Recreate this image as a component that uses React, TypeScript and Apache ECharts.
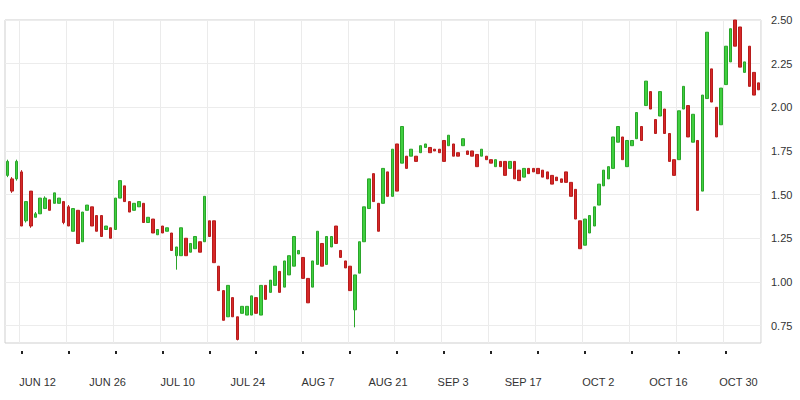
import React, { useEffect, useRef } from "react";
import * as echarts from "echarts";

// Daily candles: [open, close, low, high]
const candles: number[][] = [
  [1.61, 1.69, 1.60, 1.70], [1.59, 1.52, 1.51, 1.60], [1.59, 1.69, 1.58, 1.70], [1.63, 1.32, 1.32, 1.64],
  [1.35, 1.46, 1.34, 1.46], [1.52, 1.32, 1.31, 1.52], [1.37, 1.39, 1.37, 1.40], [1.39, 1.48, 1.39, 1.48],
  [1.42, 1.48, 1.42, 1.49], [1.47, 1.41, 1.41, 1.47], [1.45, 1.51, 1.45, 1.51], [1.45, 1.48, 1.45, 1.48],
  [1.46, 1.34, 1.33, 1.46], [1.43, 1.32, 1.32, 1.44], [1.29, 1.42, 1.29, 1.42], [1.41, 1.22, 1.22, 1.41],
  [1.23, 1.40, 1.23, 1.40], [1.41, 1.44, 1.41, 1.44], [1.43, 1.32, 1.32, 1.43], [1.38, 1.29, 1.29, 1.38],
  [1.38, 1.26, 1.26, 1.38], [1.30, 1.32, 1.30, 1.32], [1.31, 1.25, 1.25, 1.31], [1.30, 1.48, 1.30, 1.48],
  [1.48, 1.58, 1.48, 1.58], [1.55, 1.46, 1.46, 1.55], [1.46, 1.40, 1.40, 1.46], [1.41, 1.45, 1.41, 1.45],
  [1.43, 1.46, 1.43, 1.46], [1.45, 1.34, 1.34, 1.45], [1.34, 1.37, 1.34, 1.37], [1.36, 1.28, 1.28, 1.36],
  [1.27, 1.30, 1.27, 1.30], [1.32, 1.28, 1.28, 1.32], [1.29, 1.31, 1.29, 1.31], [1.28, 1.18, 1.18, 1.28],
  [1.15, 1.20, 1.07, 1.20], [1.15, 1.31, 1.15, 1.31], [1.25, 1.15, 1.15, 1.25], [1.17, 1.22, 1.17, 1.22],
  [1.19, 1.26, 1.19, 1.26], [1.23, 1.17, 1.17, 1.23], [1.23, 1.49, 1.23, 1.49], [1.35, 1.26, 1.26, 1.35],
  [1.35, 1.11, 1.11, 1.35], [1.09, 0.95, 0.95, 1.09], [0.95, 0.78, 0.78, 0.95], [0.80, 0.98, 0.80, 0.98],
  [0.91, 0.80, 0.80, 0.91], [0.80, 0.67, 0.665, 0.80], [0.82, 0.86, 0.82, 0.86], [0.81, 0.86, 0.81, 0.86],
  [0.81, 0.92, 0.81, 0.92], [0.91, 0.82, 0.82, 0.91], [0.81, 0.98, 0.81, 0.98], [0.98, 0.90, 0.90, 0.98],
  [0.94, 1.01, 0.94, 1.01], [0.98, 1.09, 0.98, 1.09], [1.06, 0.94, 0.94, 1.06], [0.97, 1.12, 0.97, 1.12],
  [1.04, 1.15, 1.04, 1.15], [1.09, 1.26, 1.09, 1.26], [1.16, 1.18, 1.16, 1.18], [1.14, 1.02, 1.02, 1.14],
  [1.02, 0.88, 0.88, 1.02], [0.97, 1.12, 0.97, 1.12], [1.10, 1.29, 1.10, 1.29], [1.22, 1.09, 1.09, 1.22],
  [1.10, 1.26, 1.10, 1.26], [1.20, 1.26, 1.20, 1.26], [1.32, 1.22, 1.22, 1.32], [1.18, 1.14, 1.14, 1.18],
  [1.12, 1.08, 1.08, 1.12], [1.09, 0.95, 0.95, 1.09], [0.84, 1.04, 0.74, 1.04], [1.05, 1.23, 1.05, 1.23],
  [1.23, 1.43, 1.23, 1.43], [1.42, 1.59, 1.42, 1.59], [1.62, 1.46, 1.46, 1.62], [1.45, 1.29, 1.29, 1.45],
  [1.45, 1.65, 1.45, 1.65], [1.63, 1.49, 1.49, 1.63], [1.49, 1.76, 1.49, 1.76], [1.79, 1.52, 1.52, 1.79],
  [1.68, 1.89, 1.68, 1.89], [1.72, 1.65, 1.65, 1.72], [1.72, 1.76, 1.72, 1.76], [1.72, 1.69, 1.69, 1.72],
  [1.74, 1.78, 1.74, 1.78], [1.77, 1.79, 1.77, 1.79], [1.77, 1.74, 1.74, 1.77], [1.76, 1.75, 1.75, 1.76],
  [1.76, 1.74, 1.74, 1.76], [1.81, 1.69, 1.69, 1.81], [1.78, 1.84, 1.78, 1.84], [1.79, 1.72, 1.72, 1.79],
  [1.74, 1.72, 1.72, 1.74], [1.78, 1.82, 1.78, 1.82], [1.75, 1.73, 1.73, 1.75], [1.75, 1.72, 1.72, 1.75],
  [1.73, 1.66, 1.66, 1.73], [1.72, 1.76, 1.72, 1.76], [1.72, 1.70, 1.70, 1.72], [1.70, 1.68, 1.68, 1.70],
  [1.66, 1.70, 1.66, 1.70], [1.69, 1.66, 1.66, 1.69], [1.69, 1.61, 1.61, 1.69], [1.65, 1.69, 1.65, 1.69],
  [1.69, 1.59, 1.59, 1.69], [1.64, 1.58, 1.58, 1.64], [1.60, 1.65, 1.60, 1.65], [1.65, 1.62, 1.62, 1.65],
  [1.65, 1.63, 1.63, 1.65], [1.65, 1.62, 1.62, 1.65], [1.64, 1.60, 1.60, 1.64], [1.63, 1.59, 1.59, 1.63],
  [1.61, 1.56, 1.56, 1.61], [1.60, 1.58, 1.58, 1.60], [1.59, 1.57, 1.57, 1.59], [1.63, 1.57, 1.57, 1.63],
  [1.57, 1.49, 1.49, 1.57], [1.53, 1.36, 1.36, 1.53], [1.35, 1.19, 1.19, 1.35], [1.21, 1.36, 1.21, 1.36],
  [1.28, 1.38, 1.28, 1.38], [1.32, 1.43, 1.32, 1.43], [1.44, 1.56, 1.44, 1.56], [1.55, 1.64, 1.55, 1.64],
  [1.59, 1.66, 1.59, 1.66], [1.65, 1.83, 1.65, 1.83], [1.80, 1.89, 1.80, 1.89], [1.83, 1.70, 1.70, 1.83],
  [1.66, 1.81, 1.66, 1.81], [1.78, 1.81, 1.78, 1.81], [1.82, 1.97, 1.82, 1.97], [1.89, 1.81, 1.81, 1.89],
  [2.01, 2.15, 2.01, 2.15], [2.09, 1.99, 1.99, 2.09], [1.93, 1.85, 1.85, 1.93], [1.95, 2.09, 1.95, 2.09],
  [1.99, 1.85, 1.85, 1.99], [1.85, 1.69, 1.69, 1.85], [1.70, 1.61, 1.61, 1.70], [1.70, 1.98, 1.70, 1.98],
  [1.99, 2.12, 1.99, 2.12], [2.01, 1.83, 1.83, 2.01], [1.80, 1.96, 1.80, 1.96], [1.81, 1.41, 1.41, 1.81],
  [1.52, 2.07, 1.52, 2.07], [2.05, 2.43, 2.05, 2.43], [2.22, 2.03, 2.03, 2.22], [2.00, 1.83, 1.83, 2.00],
  [1.90, 2.11, 1.90, 2.11], [2.13, 2.35, 2.13, 2.35], [2.26, 2.45, 2.26, 2.45], [2.50, 2.35, 2.35, 2.50],
  [2.46, 2.23, 2.23, 2.46], [2.20, 2.26, 2.20, 2.26], [2.35, 2.12, 2.12, 2.35], [2.20, 2.07, 2.07, 2.20],
  [2.14, 2.10, 2.10, 2.14],
];

const sessions: string[] = candles.map((_, i) => String(i + 1));

const tickLabels: string[] = [
  "JUN 12", "JUN 26", "JUL 10", "JUL 24", "AUG 7", "AUG 21",
  "SEP 3", "SEP 17", "OCT 2", "OCT 16", "OCT 30",
];

const yLabels: string[] = ["0.75", "1.00", "1.25", "1.50", "1.75", "2.00", "2.25", "2.50"];

const MONTHS = ["JAN", "FEB", "MAR", "APR", "MAY", "JUN", "JUL", "AUG", "SEP", "OCT", "NOV", "DEC"];
const firstDay = { year: 2023, month: 5, day: 6 };
const dayCount = 151;

function buildDays(): string[] {
  const out: string[] = [];
  for (let i = 0; i < dayCount; i++) {
    const d = new Date(firstDay.year, firstDay.month, firstDay.day + i);
    out.push(`${MONTHS[d.getMonth()]} ${d.getDate()}`);
  }
  return out;
}
const days = buildDays();

const FONT = "'Liberation Sans', Arial, sans-serif";

export default function App() {
  const ref = useRef<HTMLDivElement>(null);

  useEffect(() => {
    document.body.style.margin = "0";
    if (!ref.current) return;
    const chart = echarts.init(ref.current, undefined, { renderer: "svg" });
    const gridEvery = (i: number) => i % 10 === 3;
    chart.setOption({
      animation: false,
      backgroundColor: "#ffffff",
      grid: {
        left: 5,
        right: 39,
        top: 20,
        bottom: 57,
        show: true,
        borderColor: "#cfcfcf",
        borderWidth: 1,
        backgroundColor: "transparent",
      },
      xAxis: [
        {
          type: "category",
          data: sessions,
          position: "bottom",
          offset: 8,
          boundaryGap: true,
          axisLine: { show: false },
          axisTick: {
            show: true,
            alignWithLabel: true,
            interval: gridEvery,
            length: 3,
            lineStyle: { color: "#222222", width: 2 },
          },
          axisLabel: { show: false },
          splitLine: {
            show: true,
            interval: gridEvery,
            lineStyle: { color: "#ebebeb", width: 1 },
          },
        },
        {
          type: "category",
          data: days,
          position: "bottom",
          boundaryGap: true,
          axisLine: { show: false },
          axisTick: { show: false },
          splitLine: { show: false },
          axisLabel: {
            interval: (_i: number, v: string) => tickLabels.includes(v),
            margin: 33,
            fontSize: 11,
            color: "#333333",
            fontFamily: FONT,
          },
        },
      ],
      yAxis: {
        type: "value",
        position: "right",
        min: 0.65,
        max: 2.5,
        interval: 0.05,
        axisLine: { show: false },
        axisTick: { show: false },
        splitLine: { show: false },
        axisLabel: {
          margin: 10,
          fontSize: 11,
          color: "#333333",
          fontFamily: FONT,
          formatter: (v: number) => {
            const s = v.toFixed(2);
            return yLabels.includes(s) ? s : "";
          },
        },
      },
      series: [
        {
          type: "candlestick",
          xAxisIndex: 0,
          yAxisIndex: 0,
          data: candles,
          barWidth: 3,
          itemStyle: {
            color: "#3fcf3f",
            color0: "#d62828",
            borderColor: "#2aa52a",
            borderColor0: "#b71c1c",
            borderWidth: 1,
          },
          markLine: {
            silent: true,
            z: 1,
            symbol: ["none", "none"],
            label: { show: false },
            lineStyle: { color: "#ececec", width: 1, type: "solid" },
            data: yLabels.map((s) => ({ yAxis: Number(s) })),
          },
        },
      ],
    });
    return () => chart.dispose();
  }, []);

  return <div ref={ref} style={{ width: 800, height: 400 }} />;
}
